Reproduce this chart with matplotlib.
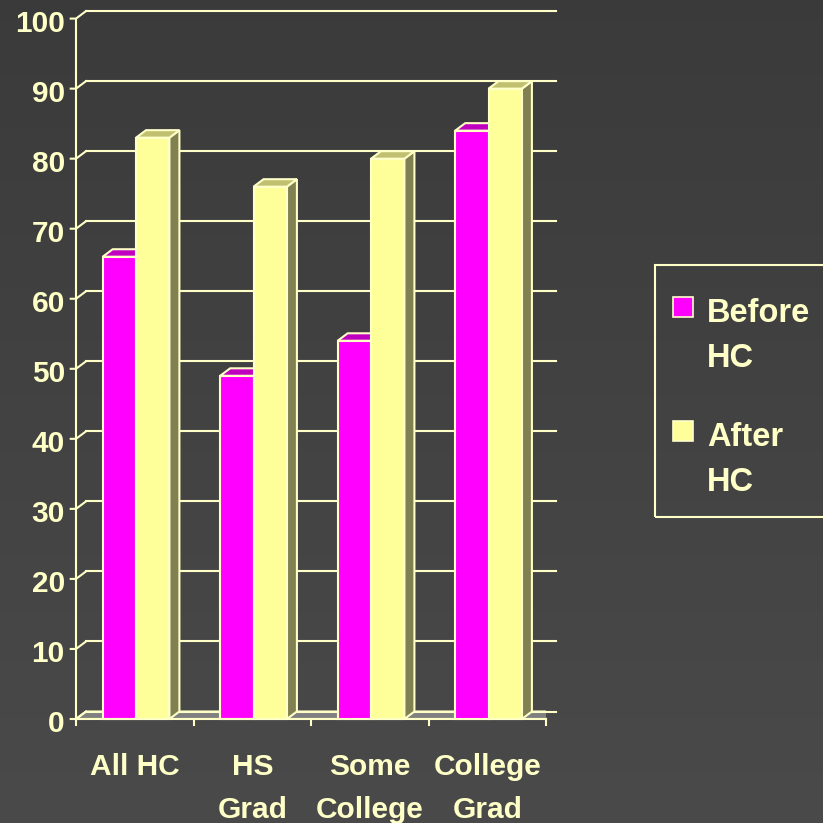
import numpy as np
import matplotlib.pyplot as plt
import matplotlib.patches as mpatches

# survey results, percent of respondents
categories = [['All HC'], ['HS', 'Grad'], ['Some', 'College'], ['College', 'Grad']]
series = [['Before', 'HC'], ['After', 'HC']]
before_hc = [66, 49, 54, 84]
after_hc = [83, 76, 80, 90]
yticks = list(range(0, 101, 10))

W = H = 823
DPI = 100

cream = '#ffffc8'
face = {'front': ['#ff00ff', '#ffff99'],
        'top': ['#c000c0', '#c0c070'],
        'side': ['#a000a0', '#808050']}

plt.rcParams['font.family'] = ['Liberation Sans', 'DejaVu Sans']
plt.rcParams['font.weight'] = 'bold'

fig = plt.figure(figsize=(W / DPI, H / DPI), dpi=DPI)

# dark gradient background
bg = fig.add_axes([0, 0, 1, 1], zorder=-10)
grad = np.linspace(0.23, 0.29, 256)[:, None] * np.ones((1, 2))
bg.imshow(np.dstack([grad, grad, grad]), aspect='auto', extent=(0, 1, 0, 1))
bg.axis('off')

# front plane of the chart, one unit per category
ax = fig.add_axes([76 / W, 1 - 719 / H, 470 / W, 700.4 / H])
ax.set_xlim(0, len(categories))
ax.set_ylim(0, 100)
ax.axis('off')
ax.patch.set_alpha(0)

# depth offset of the 3d walls, in data units
dx = 10 / 117.5
dy = 7.5 / 7.004
n = len(categories)
lw = 1.5

# floor
floor = mpatches.Polygon([(0, 0), (n, 0), (n + dx, dy), (dx, dy)], closed=True,
                         facecolor='#808080', edgecolor=cream, lw=lw, zorder=1)
ax.add_patch(floor)

# back wall gridlines with the slanted connectors and ticks
for v in yticks:
    ax.plot([dx, n + dx], [v + dy, v + dy], color=cream, lw=lw, zorder=1, clip_on=False)
    ax.plot([-0.045, 0, dx], [v, v, v + dy], color=cream, lw=lw, zorder=1, clip_on=False)
    ax.text(-0.095, v - 0.75, str(v), ha='right', va='center', color=cream,
            fontsize=21.5, fontweight='bold')

# front axis lines
ax.plot([0, 0], [0, 100], color=cream, lw=lw, zorder=5, clip_on=False)
ax.plot([0, n], [0, 0], color=cream, lw=lw, zorder=5, clip_on=False)
for i in range(n + 1):
    ax.plot([i, i], [0, -0.9], color=cream, lw=lw, zorder=5, clip_on=False)

# 3d bars
bw = 0.284
start = 0.227
z = 2
for i in range(n):
    for k, vals in enumerate([before_hc, after_hc]):
        x0 = i + start + k * bw
        h = vals[i]
        side = mpatches.Polygon([(x0 + bw, 0), (x0 + bw + dx, dy), (x0 + bw + dx, h + dy),
                                 (x0 + bw, h)], closed=True, facecolor=face['side'][k],
                                edgecolor=cream, lw=lw, zorder=z, joinstyle='miter')
        top = mpatches.Polygon([(x0, h), (x0 + bw, h), (x0 + bw + dx, h + dy), (x0 + dx, h + dy)],
                               closed=True, facecolor=face['top'][k], edgecolor=cream,
                               lw=lw, zorder=z, joinstyle='miter')
        front = mpatches.Rectangle((x0, 0), bw, h, facecolor=face['front'][k],
                                   edgecolor=cream, lw=lw, zorder=z + 0.5, joinstyle='miter')
        for p in (side, top, front):
            p.set_clip_on(False)
            ax.add_patch(p)
        z += 1

# category labels
for i, lines in enumerate(categories):
    for j, line in enumerate(lines):
        ax.text(i + 0.5, -8.0 - 6.1 * j, line, ha='center', va='baseline', color=cream,
                fontsize=21.5, fontweight='bold', clip_on=False)

# legend box, running off the right edge
box = mpatches.Rectangle((655 / W, 1 - 517 / H), 200 / W, 252 / H, transform=fig.transFigure,
                         facecolor='none', edgecolor=cream, lw=1.5)
fig.patches.append(box)
for k, lines in enumerate(series):
    top_px = 297 + k * 124
    sq = mpatches.Rectangle((673 / W, 1 - (top_px + 20) / H), 20 / W, 20 / H,
                            transform=fig.transFigure, facecolor=face['front'][k],
                            edgecolor=cream, lw=1.2)
    fig.patches.append(sq)
    for j, line in enumerate(lines):
        fig.text(707 / W, 1 - (top_px + 25 + 45 * j) / H, line, ha='left', va='baseline',
                 color=cream, fontsize=23.5, fontweight='bold')

fig.savefig('out.png', dpi=DPI)
